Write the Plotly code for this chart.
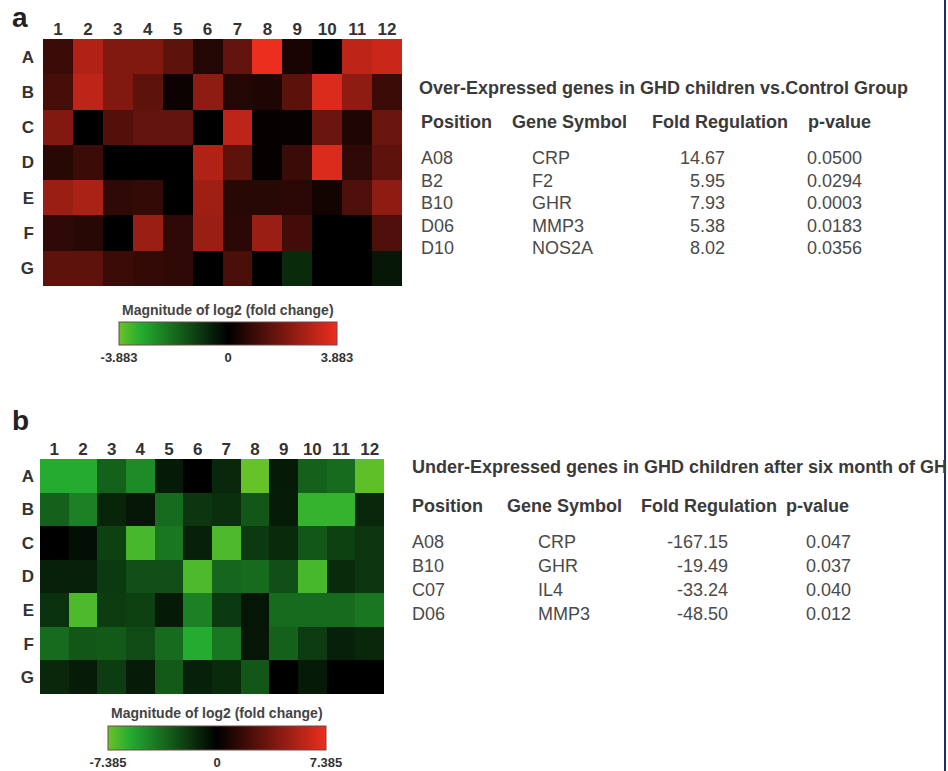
import plotly.graph_objects as go

W, H = 948, 771
FONT = "Liberation Sans, Arial, sans-serif"

def X(px):
    return px / W

def Y(py):
    return 1 - py / H

# ---------------- data ----------------
columns = [str(i) for i in range(1, 13)]
rows = ["A", "B", "C", "D", "E", "F", "G"]

# panel a: log2 fold change (over-expressed, GHD vs control)
a_A = [0.97, 2.91, 2.14, 2.14, 1.55, 0.58, 1.63, 3.88, 0.39, 0.00, 3.11, 3.30]
a_B = [1.16, 3.11, 2.14, 1.55, 0.19, 2.33, 0.58, 0.47, 1.48, 3.61, 2.33, 0.97]
a_C = [2.14, 0.00, 1.36, 1.63, 1.63, 0.00, 3.11, 0.08, 0.12, 1.75, 0.47, 1.75]
a_D = [0.66, 0.97, 0.00, 0.00, 0.00, 2.91, 1.55, 0.08, 0.97, 3.61, 0.78, 1.55]
a_E = [2.52, 2.80, 0.78, 0.85, 0.00, 2.64, 0.66, 0.66, 0.70, 0.31, 1.28, 2.33]
a_F = [0.78, 0.66, 0.00, 2.52, 0.78, 2.52, 0.70, 2.52, 1.09, 0.00, 0.00, 1.28]
a_G = [1.55, 1.55, 0.97, 0.85, 0.78, 0.00, 1.24, 0.00, -0.78, 0.00, 0.00, -0.39]
a_max = 3.883

# panel b: log2 fold change (under-expressed, after six months of GH)
b_A = [-5.91, -5.91, -3.32, -4.80, -0.89, 0.00, -1.33, -7.30, -0.89, -3.32, -3.69, -7.16]
b_B = [-3.32, -4.43, -1.26, -0.74, -3.69, -1.85, -1.62, -2.95, -0.96, -6.28, -6.28, -1.33]
b_C = [0.00, -0.52, -2.22, -6.65, -4.06, -1.11, -6.79, -1.99, -1.48, -2.95, -2.22, -1.85]
b_D = [-1.11, -1.11, -1.99, -2.73, -2.73, -6.79, -3.54, -3.69, -2.73, -6.65, -1.48, -1.85]
b_E = [-1.70, -6.79, -2.07, -2.22, -0.89, -4.43, -1.99, -0.74, -3.69, -3.69, -3.69, -4.06]
b_F = [-3.69, -2.95, -3.10, -2.58, -3.69, -5.91, -4.06, -0.74, -3.32, -2.07, -1.11, -1.33]
b_G = [-1.33, -0.96, -2.07, -0.96, -3.10, -1.11, -1.48, -2.95, 0.00, -0.89, 0.00, 0.00]
b_max = 7.385

# tables
table_header = ["Position", "Gene Symbol", "Fold Regulation", "p-value"]
a_title = "Over-Expressed genes in GHD children vs.Control Group"
a_pos = ["A08", "B2", "B10", "D06", "D10"]
a_gene = ["CRP", "F2", "GHR", "MMP3", "NOS2A"]
a_fold = ["14.67", "5.95", "7.93", "5.38", "8.02"]
a_p = ["0.0500", "0.0294", "0.0003", "0.0183", "0.0356"]

b_title = "Under-Expressed genes in GHD children after six month of GH"
b_pos = ["A08", "B10", "C07", "D06"]
b_gene = ["CRP", "GHR", "IL4", "MMP3"]
b_fold = ["-167.15", "-19.49", "-33.24", "-48.50"]
b_p = ["0.047", "0.037", "0.040", "0.012"]

cbar_title = "Magnitude of log2 (fold change)"

# ---------------- styling ----------------
colorscale = [
    [0.0, "rgb(105,195,40)"],
    [0.1, "rgb(36,172,48)"],
    [0.5, "rgb(0,0,0)"],
    [1.0, "rgb(236,46,30)"],
]

fig = go.Figure()


def add_panel(z, zmax, xa, ya, cb_cx, cb_top, cb_len, cb_thick):
    fig.add_trace(go.Heatmap(
        z=z, x=columns, y=rows, xaxis=xa, yaxis=ya,
        zmin=-zmax, zmax=zmax, colorscale=colorscale,
        xgap=0, ygap=0, hoverinfo="skip",
        colorbar=dict(
            orientation="h", x=X(cb_cx), xanchor="center",
            y=Y(cb_top), yanchor="top",
            len=cb_len, lenmode="pixels",
            thickness=cb_thick, thicknessmode="pixels",
            xpad=0, ypad=0, outlinewidth=1, outlinecolor="#6a4a4a",
            tickvals=[-zmax, 0, zmax],
            ticktext=[f"-{zmax:.3f}", "0", f"{zmax:.3f}"],
            ticks="",
            tickfont=dict(family=FONT, size=13, color="#333", weight="bold"),
        ),
    ))


add_panel([a_A, a_B, a_C, a_D, a_E, a_F, a_G], a_max, "x", "y", 228, 322, 218, 23)
add_panel([b_A, b_B, b_C, b_D, b_E, b_F, b_G], b_max, "x2", "y2", 217, 726, 218, 24)

axis_font = dict(family=FONT, size=17, color="#333", weight="bold")
common_x = dict(side="top", showgrid=False, zeroline=False, ticks="",
                tickfont=axis_font, showline=False, type="category")
common_y = dict(showgrid=False, zeroline=False, ticks="", tickfont=axis_font,
                autorange="reversed", showline=False, type="category")

fig.update_layout(
    width=W, height=H,
    margin=dict(l=0, r=0, t=0, b=0),
    paper_bgcolor="white", plot_bgcolor="white",
    showlegend=False,
    xaxis=dict(domain=[X(43), X(402)], anchor="y", **common_x),
    yaxis=dict(domain=[Y(286), Y(39)], anchor="x", ticklabelstandoff=8, **common_y),
    xaxis2=dict(domain=[X(40), X(384)], anchor="y2", **common_x),
    yaxis2=dict(domain=[Y(694), Y(459)], anchor="x2", ticklabelstandoff=5, **common_y),
)

annotations = []


def text(x, y, s, size=18, bold=False, color="#3a3a3a", xanchor="left"):
    annotations.append(dict(
        x=X(x), y=Y(y), xref="paper", yref="paper", text=s, showarrow=False,
        xanchor=xanchor, yanchor="middle",
        font=dict(family=FONT, size=size, color=color,
                  weight="bold" if bold else "normal"),
    ))


# panel letters
text(10, 17, "a", size=28, bold=True, color="#222")
text(10, 421, "b", size=28, bold=True, color="#222")

# colorbar titles
text(228, 310, cbar_title, size=14, bold=True, color="#444", xanchor="center")
text(217, 713, cbar_title, size=14, bold=True, color="#444", xanchor="center")

# table a
text(417, 88, a_title, size=18, bold=True, color="#3a3a3a")
for cx, h in zip([419, 510, 650, 806], table_header):
    text(cx, 122, h, size=18, bold=True, color="#3a3a3a")
for i, (p, g, f, pv) in enumerate(zip(a_pos, a_gene, a_fold, a_p)):
    yy = 158 + i * 22.5
    text(419, yy, p, color="#4a4a4a")
    text(530, yy, g, color="#4a4a4a")
    text(727, yy, f, color="#4a4a4a", xanchor="right")
    text(805, yy, pv, color="#4a4a4a")

# table b
text(410, 467, b_title, size=18, bold=True, color="#3a3a3a")
for cx, h in zip([410, 505, 639, 784], table_header):
    text(cx, 506, h, size=18, bold=True, color="#3a3a3a")
for i, (p, g, f, pv) in enumerate(zip(b_pos, b_gene, b_fold, b_p)):
    yy = 542 + i * 24
    text(410, yy, p, color="#4a4a4a")
    text(536, yy, g, color="#4a4a4a")
    text(730, yy, f, color="#4a4a4a", xanchor="right")
    text(804, yy, pv, color="#4a4a4a")

fig.update_layout(annotations=annotations)

# right-hand frame edge of the original figure
fig.add_shape(type="rect", xref="paper", yref="paper",
              x0=X(946), x1=1, y0=0, y1=1, fillcolor="white", line_width=0)
fig.add_shape(type="line", xref="paper", yref="paper",
              x0=X(945), x1=X(945), y0=0, y1=1,
              line=dict(color="#1c2a6e", width=2))

fig.write_html("out.html")
